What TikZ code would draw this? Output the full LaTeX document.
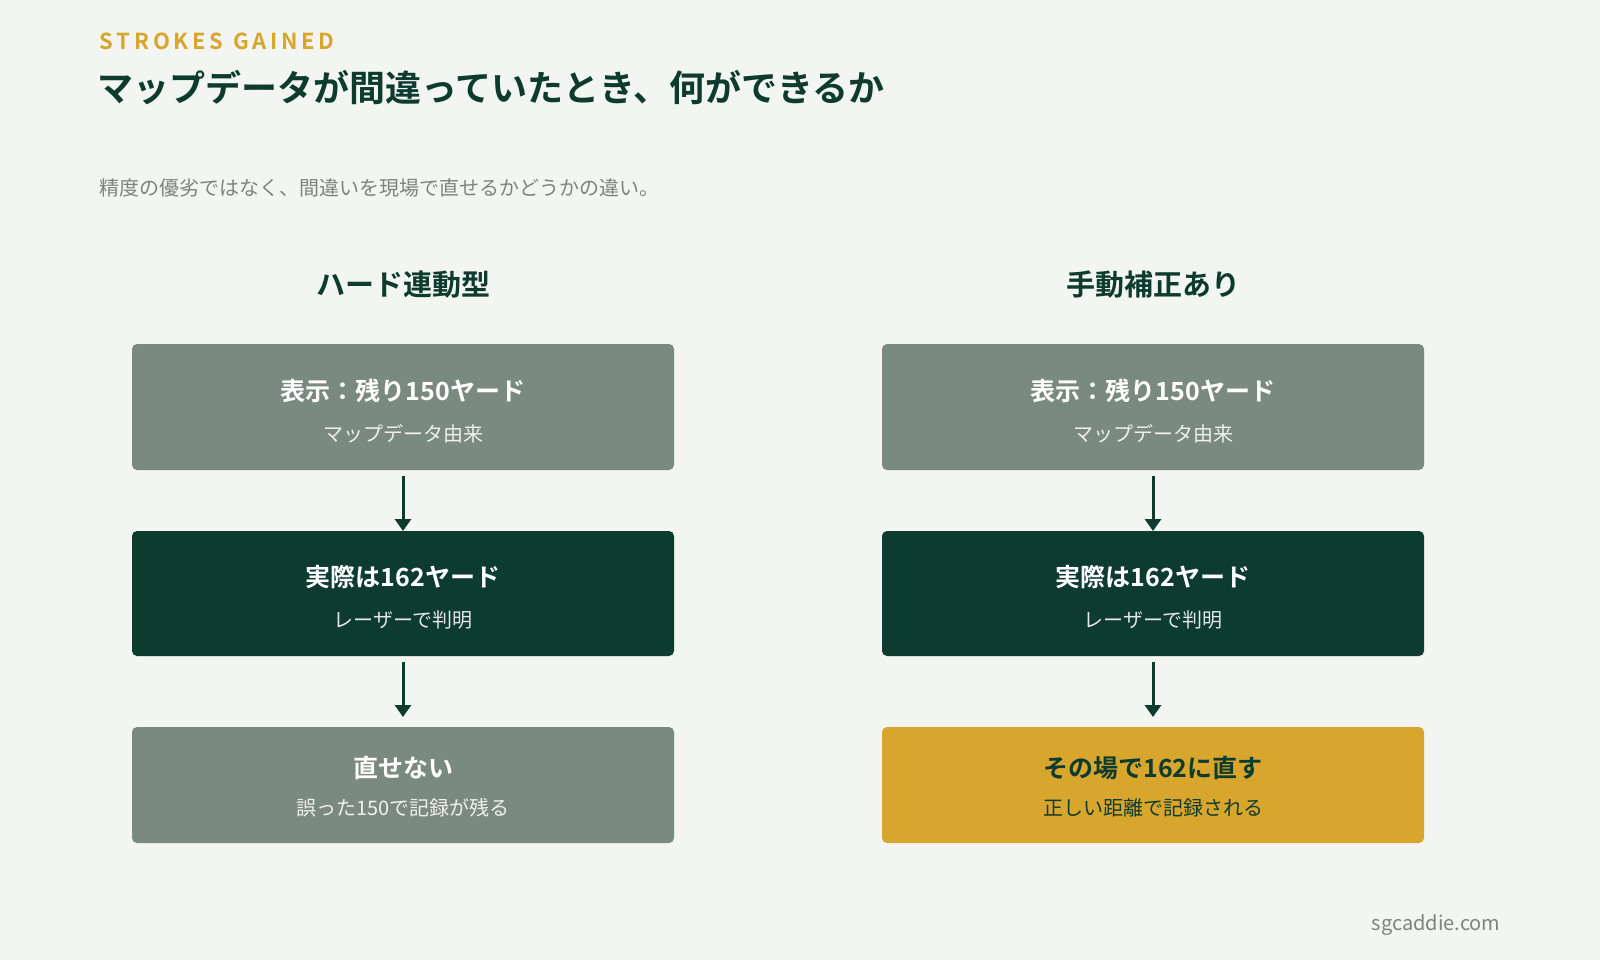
\documentclass[tikz,border=0pt]{standalone}
\usepackage{fontspec}
\setmainfont{Noto Sans CJK JP}[BoldFont={Noto Sans CJK JP Bold}]
\usetikzlibrary{arrows.meta}
\definecolor{bg}{HTML}{F3F5F2}
\definecolor{gbox}{HTML}{7B8A80}
\definecolor{dgreen}{HTML}{0D3B2E}
\definecolor{gold}{HTML}{D8A52D}
\definecolor{subg}{HTML}{7A857E}
\begin{document}
\begin{tikzpicture}[x=1pt,y=-1pt,
 box/.style={rounded corners=4pt,minimum width=543pt,inner sep=0pt},
 arr/.style={draw=dgreen,line width=3pt,-{Triangle[length=12pt,width=16pt]}},
 main/.style={font=\bfseries\fontsize{25}{30}\selectfont},
 sub/.style={font=\fontsize{20}{24}\selectfont}]
\useasboundingbox[fill=bg] (0,0) rectangle (1600,960);
\node[anchor=west,text=gold,font=\bfseries\fontsize{22}{26}\selectfont] (tag) at (96,41) {S\,T\,R\,O\,K\,E\,S\ \ G\,A\,I\,N\,E\,D};
\node[anchor=west,text=dgreen,font=\bfseries\fontsize{36}{42}\selectfont] (title) at (94,88) {マップデータが間違っていたとき、何ができるか};
\node[anchor=west,text=subg,font=\fontsize{20}{24}\selectfont] (st) at (96,188) {精度の優劣ではなく、間違いを現場で直せるかどうかの違い。};
\foreach \cx/\n/\h in {403/L/ハード連動型,1153/R/手動補正あり}{
 \node[text=dgreen,font=\bfseries\fontsize{29}{34}\selectfont] (h\n) at (\cx,285) {\h};
 \fill[gbox,rounded corners=5pt] (\cx-271,344) rectangle (\cx+271,470);
 \node[text=white,main] (a\n) at (\cx,391) {表示：残り150ヤード};
 \node[text=white!88!gbox,sub] (as\n) at (\cx,434) {マップデータ由来};
 \fill[dgreen,rounded corners=5pt] (\cx-271,531) rectangle (\cx+271,656);
 \node[text=white,main] (b\n) at (\cx,577) {実際は162ヤード};
 \node[text=white!88!dgreen,sub] (bs\n) at (\cx,620) {レーザーで判明};
 \coordinate (a1\n) at (\cx,476); \coordinate (a2\n) at (\cx,531);
 \coordinate (b1\n) at (\cx,662); \coordinate (b2\n) at (\cx,717);
 \draw[arr] (a1\n) -- (a2\n);
 \draw[arr] (b1\n) -- (b2\n);
}
\fill[gbox,rounded corners=5pt] (132,727) rectangle (674,843);
\node[text=white,main] (cL) at (403,768) {直せない};
\node[text=white!88!gbox,sub] (csL) at (403,808) {誤った150で記録が残る};
\fill[gold,rounded corners=5pt] (882,727) rectangle (1424,843);
\node[text=dgreen,main] (cR) at (1153,768) {その場で162に直す};
\node[text=dgreen,sub] (csR) at (1153,808) {正しい距離で記録される};
\node[anchor=east,text=subg,font=\fontsize{20}{24}\selectfont] (web) at (1504,925) {sgcaddie.com};
\end{tikzpicture}
\end{document}
